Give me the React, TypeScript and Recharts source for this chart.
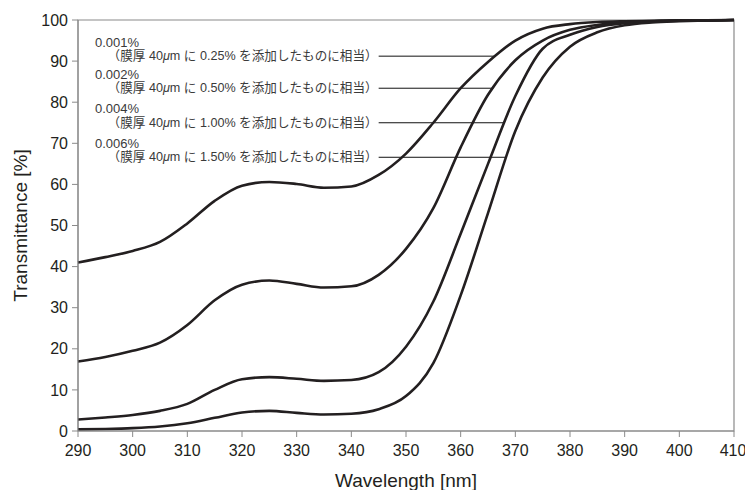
import React from 'react';
import { Line, LineChart, ReferenceArea, ReferenceLine, XAxis, YAxis } from 'recharts';

const WAVELENGTHS = [
  290, 295, 300, 305, 310, 315, 320, 325, 330, 335, 340, 345, 350,
  355, 360, 365, 370, 375, 380, 385, 390, 395, 400, 405, 410,
];

// transmittance [%] per concentration
const T_0001 = [
  41.0, 42.3, 43.8, 46.0, 50.5, 56.0, 59.7, 60.6, 60.1, 59.2, 59.5, 62.3, 67.5,
  75.0, 83.4, 89.8, 95.0, 97.9, 99.0, 99.5, 99.7, 99.8, 99.9, 99.9, 100.0,
];
const T_0002 = [
  16.9, 18.0, 19.5, 21.5, 25.8, 31.8, 35.6, 36.6, 35.8, 34.9, 35.2, 38.0, 44.3,
  54.2, 69.0, 81.8, 90.2, 95.0, 97.6, 98.8, 99.4, 99.7, 99.9, 99.9, 100.0,
];
const T_0004 = [
  2.8, 3.3, 3.9, 4.9, 6.6, 10.0, 12.6, 13.1, 12.7, 12.2, 12.4, 14.3, 20.5,
  31.5, 48.0, 65.0, 81.5, 93.0, 96.4, 98.3, 99.2, 99.6, 99.8, 99.9, 100.0,
];
const T_0006 = [
  0.4, 0.5, 0.7, 1.1, 1.9, 3.2, 4.5, 4.9, 4.4, 4.0, 4.2, 5.3, 8.5,
  16.5, 33.0, 53.0, 73.0, 86.0, 93.5, 97.0, 98.7, 99.4, 99.7, 99.9, 100.0,
];

const CONCENTRATIONS = ['0.001%', '0.002%', '0.004%', '0.006%'];
const FILM_EQUIV = ['0.25%', '0.50%', '1.00%', '1.50%'];
const LABEL_LEVELS = [91.2, 83.4, 75.0, 66.6];
const LEADER_START = 345;

const X_TICKS = [290, 300, 310, 320, 330, 340, 350, 360, 370, 380, 390, 400, 410];
const Y_TICKS = [0, 10, 20, 30, 40, 50, 60, 70, 80, 90, 100];

const SERIES = [T_0001, T_0002, T_0004, T_0006];
const KEYS = ['c1', 'c2', 'c3', 'c4'];

const rows = WAVELENGTHS.map((w, i) => {
  const r: any = { w };
  SERIES.forEach((s, k) => (r[KEYS[k]] = s[i]));
  return r;
});

// wavelength where a curve rises through a level
function crossAt(values: number[], level: number) {
  for (let i = 1; i < values.length; i++) {
    if (values[i - 1] < level && values[i] >= level) {
      const t = (level - values[i - 1]) / (values[i] - values[i - 1]);
      return WAVELENGTHS[i - 1] + t * (WAVELENGTHS[i] - WAVELENGTHS[i - 1]);
    }
  }
  return WAVELENGTHS[WAVELENGTHS.length - 1];
}

const FONT = '"Liberation Sans", Arial, "Noto Sans CJK JP", sans-serif';
const INK = '#231f20';
const AXIS = '#8a8a8a';

const Note: React.FC<any> = ({ viewBox, pct, film }) => {
  if (!viewBox) return null;
  const end = viewBox.x - 1;
  return (
    <g fontFamily={FONT} fill="#3a3a3a">
      <text x={95} y={viewBox.y - 14} fontSize={13} dominantBaseline="central">
        {pct}
      </text>
      <text
        x={end}
        y={viewBox.y}
        fontSize={12.6}
        textAnchor="end"
        dominantBaseline="central"
      >
        （膜厚 40<tspan fontStyle="italic">μ</tspan>m に {film} を添加したものに相当）
      </text>
    </g>
  );
};

export default function App() {
  return (
    <div style={{ position: 'absolute', left: 0, top: 0, background: '#fff' }}>
      <LineChart
        width={745}
        height={490}
        data={rows}
        margin={{ top: 20, right: 11, bottom: 0, left: 0 }}
      >
        <ReferenceArea
          x1={290}
          x2={410}
          y1={0}
          y2={100}
          fill="none"
          stroke={AXIS}
          strokeWidth={1.2}
        />
        <XAxis
          dataKey="w"
          type="number"
          domain={[290, 410]}
          ticks={X_TICKS}
          height={59}
          stroke={AXIS}
          tickSize={6}
          tickMargin={8}
          tick={{ fill: INK, fontSize: 16, fontFamily: FONT }}
          label={{
            value: 'Wavelength [nm]',
            position: 'insideBottom',
            offset: 3,
            fill: INK,
            fontSize: 19,
            fontFamily: FONT,
          }}
        />
        <YAxis
          type="number"
          domain={[0, 100]}
          ticks={Y_TICKS}
          width={78}
          stroke={AXIS}
          tickSize={6}
          tickMargin={4}
          tick={{ fill: INK, fontSize: 16, fontFamily: FONT }}
          label={{
            value: 'Transmittance [%]',
            angle: -90,
            position: 'insideLeft',
            offset: 20,
            fill: INK,
            fontSize: 19,
            fontFamily: FONT,
            style: { textAnchor: 'middle' },
          }}
        />
        {SERIES.map((s, k) => (
          <ReferenceLine
            key={'lead' + k}
            segment={[
              { x: LEADER_START, y: LABEL_LEVELS[k] },
              { x: crossAt(s, LABEL_LEVELS[k]), y: LABEL_LEVELS[k] },
            ]}
            stroke="#111"
            strokeWidth={1}
            label={(p: any) => (
              <Note viewBox={p.viewBox} pct={CONCENTRATIONS[k]} film={FILM_EQUIV[k]} />
            )}
          />
        ))}
        {KEYS.map((key) => (
          <Line
            key={key}
            dataKey={key}
            type="monotone"
            stroke={INK}
            strokeWidth={2.6}
            dot={false}
            activeDot={false}
            isAnimationActive={false}
          />
        ))}
      </LineChart>
    </div>
  );
}
